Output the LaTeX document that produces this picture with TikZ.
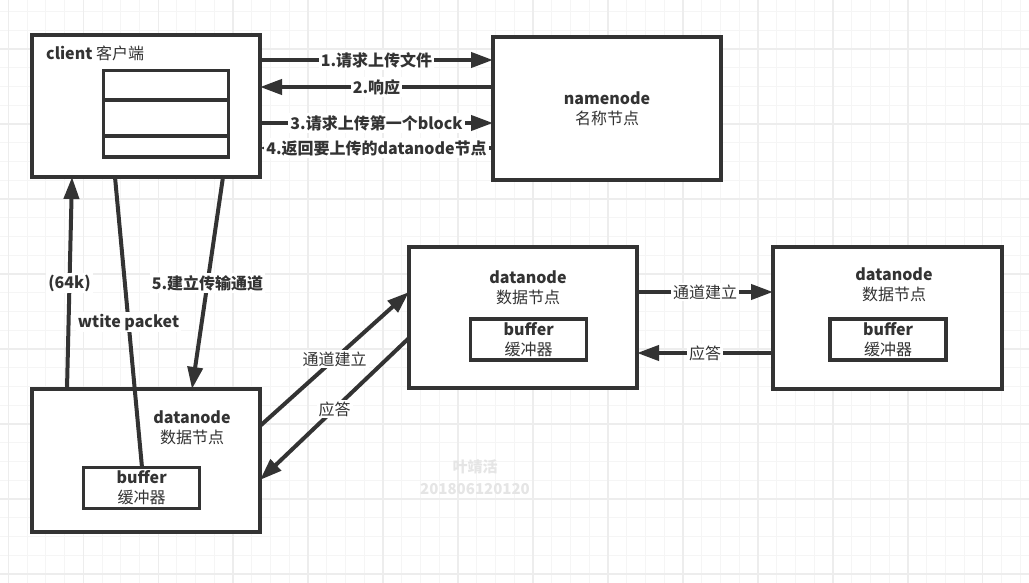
\documentclass[tikz,border=0pt]{standalone}
\usepackage{fontspec}
\setmainfont{Noto Sans CJK SC}
\usepackage{tikz}
\usetikzlibrary{arrows.meta, positioning, calc}
\definecolor{ink}{HTML}{333333}

\begin{document}
\begin{tikzpicture}[
    x=1pt, y=-1pt,
    font=\fontsize{16}{20}\selectfont,
    box/.style={draw=ink, fill=white, line width=4pt, outer sep=0pt, inner sep=0pt, minimum width=228pt, minimum height=142pt},
    buf/.style={draw=ink, fill=white, line width=3.5pt, outer sep=0pt, inner sep=0pt, minimum width=116pt, minimum height=41pt, align=center, text=ink},
    title/.style={align=center, text=ink, inner sep=0pt},
    arrow/.style={draw=ink, line width=4pt, -{Triangle[length=22pt, width=15pt]}},
    plain/.style={draw=ink, line width=4pt},
    tag/.style={fill=white, text=ink, inner sep=2pt, font=\fontsize{16}{20}\selectfont\bfseries},
    softtag/.style={tag, font=\fontsize{16}{20}\selectfont},
    minor/.style={gray!8, line width=1pt},
    major/.style={gray!14, line width=1.4pt}
]

\useasboundingbox (0,0) rectangle (1029,583);
\fill[white] (0,0) rectangle (1029,583);
\foreach \i in {0,...,54} \draw[minor] (8.3+18.74*\i,0) -- (8.3+18.74*\i,583);
\foreach \j in {0,...,30} \draw[minor] (0,11.7+18.74*\j) -- (1029,11.7+18.74*\j);
\foreach \i in {0,4,...,52} \draw[major] (8.3+18.74*\i,0) -- (8.3+18.74*\i,583);
\foreach \j in {2,6,...,30} \draw[major] (0,11.7+18.74*\j) -- (1029,11.7+18.74*\j);

\node[text=gray!20, font=\fontsize{15}{22}\selectfont\bfseries, align=center] (mark) at (475,477) {叶靖活\\201806120120};

\node[box] (client) at (146,106) {};
\node[title, anchor=west] (clienttxt) at (46,53) {\textbf{client} 客户端};
\node[draw=ink, line width=3.5pt, outer sep=0pt, inner sep=0pt, minimum width=125pt, minimum height=86.5pt] (queue) at (166,114) {};
\draw[plain, line width=3.5pt] ($(queue.north west)+(0,29.25)$) -- ($(queue.north east)+(0,29.25)$);
\draw[plain, line width=3.5pt] ($(queue.north west)+(0,65.25)$) -- ($(queue.north east)+(0,65.25)$);

\node[box, minimum height=143pt] (namenode) at (607,108.5) {};
\node[title] (nntxt) at (607,108.3) {{\bfseries namenode}\\名称节点};

\node[box, minimum height=143pt] (dn1) at (146,460.5) {};
\node[title] (dn1txt) at (192,427.5) {{\bfseries datanode}\\数据节点};
\node[buf] (dn1buf) at (141.7,487.8) {{\bfseries buffer}\\缓冲器};

\node[box, minimum height=141pt] (dn2) at (523,317.5) {};
\node[title] (dn2txt) at (528,287.7) {{\bfseries datanode}\\数据节点};
\node[buf] (dn2buf) at (528.7,339.5) {{\bfseries buffer}\\缓冲器};

\node[box, minimum width=229pt, right=136pt of dn2] (dn3) {};
\node[title] (dn3txt) at (894,284.6) {{\bfseries datanode}\\数据节点};
\node[buf] (dn3buf) at (888,339.5) {{\bfseries buffer}\\缓冲器};

\draw[arrow] (client.east |- 0,60) -- node[tag] {1.请求上传文件} (namenode.west |- 0,60);
\draw[arrow] (namenode.west |- 0,87) -- node[tag] {2.响应} (client.east |- 0,87);
\draw[arrow] (client.east |- 0,123) -- node[tag] {3.请求上传第一个block} (namenode.west |- 0,123);
\draw[arrow] (namenode.west |- 0,148) -- node[tag] {4.返回要上传的datanode节点} (client.east |- 0,148);

\draw[arrow] (dn1.north -| 67,0) -- node[tag] {(64k)} (client.south -| 72,0);
\draw[plain] (client.south -| 115,0) -- node[tag] {wtite packet} (dn1buf.north -| 142,0);
\draw[arrow] (client.south -| 223,0) -- node[tag] {5.建立传输通道} (dn1.north -| 192,0);

\draw[arrow] (dn1.east |- 0,426) -- node[softtag] {通道建立} (dn2.west |- 0,292);
\draw[arrow] (dn2.west |- 0,338) -- node[softtag] {应答} (dn1.east |- 0,480);

\draw[arrow] (dn2.east |- 0,292) -- node[softtag] {通道建立} (dn3.west |- 0,292);
\draw[arrow] (dn3.west |- 0,353) -- node[softtag] {应答} (dn2.east |- 0,353);

\end{tikzpicture}
\end{document}
